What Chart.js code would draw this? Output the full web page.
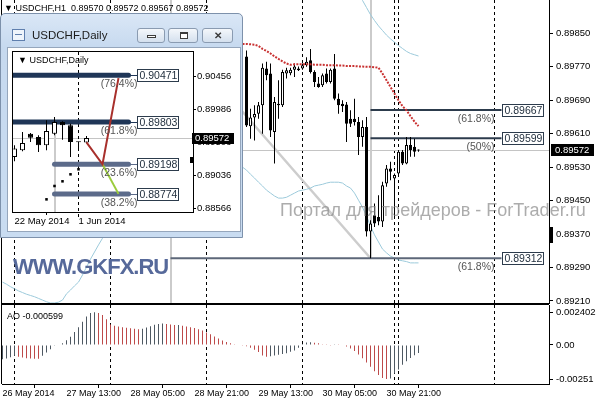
<!DOCTYPE html>
<html lang="ru">
<head>
<meta charset="utf-8">
<title>USDCHF,H1</title>
<script src="https://cdn.jsdelivr.net/npm/chart.js@4.4.1/dist/chart.umd.min.js"></script>
<style>
  html, body { margin: 0; padding: 0; background: #fff; }
  body { font-family: 'Liberation Sans', Arial, sans-serif; }
  #wrap { position: relative; width: 596px; height: 400px; overflow: hidden; background: #fff; }
  #wrap canvas { position: absolute; }
  .txt { position: absolute; white-space: pre; line-height: 1; color: #000; }
  #wm1 { left: 280px; top: 201px; font-size: 18px; color: rgba(140, 140, 140, 0.72); }
  #wm2 { left: 13px; top: 256px; font-size: 22px; font-weight: bold; letter-spacing: -1px; color: #56699a; }
  #win { position: absolute; left: 0; top: 13px; width: 243px; height: 225px; box-sizing: border-box;
         border: 1px solid #7d91ab; border-radius: 5px 5px 0 0;
         background: linear-gradient(#dae7f6, #c6d9ef 34px, #c9dcf1); }
  #client { position: absolute; left: 7px; top: 34px; width: 232px; height: 183px; background: #fff;
            box-shadow: 0 0 0 1px #95a6bc; }
  #winTitle { position: absolute; left: 31px; top: 16px; font-size: 11.5px; color: #1b1b1b; }
  #winIcon { position: absolute; left: 11px; top: 15px; width: 11px; height: 10px; border: 1px solid #5f7fae;
             background: #eef4fb; }
  #winIcon i { position: absolute; left: 2px; top: 4px; width: 7px; height: 1px; background: #5f7fae; }
  .btn { position: absolute; top: 14px; height: 15px; box-sizing: border-box; border: 1px solid #8a9bb1;
         border-radius: 3px; background: linear-gradient(#f4f7fb, #d4e0ee); }
  .btn span { position: absolute; box-sizing: border-box; background: #fff; border: 1px solid #3c3c3c; }
  .btn b { position: absolute; left: 0; right: 0; top: 0; text-align: center; font-size: 10px; line-height: 13px; color: #3a3a3a; }
</style>
</head>
<body>
<div id="wrap">
  <canvas id="mainChart" width="596" height="312" style="left:0;top:0"></canvas>
  <canvas id="aoChart" width="596" height="97" style="left:0;top:303px"></canvas>
  <div class="txt" id="hdr" style="left:4px;top:4px;font-size:9px"></div>
  <div class="txt" id="aoTitle" style="left:7px;top:312px;font-size:9px"></div>
  <div class="txt" id="wm1">Портал для трейдеров - ForTrader.ru</div>
  <div class="txt" id="wm2">WWW.GKFX.RU</div>
  <div id="win">
    <div id="winIcon"><i></i></div>
    <div class="txt" id="winTitle">USDCHF,Daily</div>
    <div class="btn" style="left:136px;width:28px"><span style="left:9px;top:6px;width:9px;height:3px"></span></div>
    <div class="btn" style="left:167px;width:30px"><span style="left:11px;top:3px;width:8px;height:7px;border-top-width:2px"></span></div>
    <div class="btn" style="left:201px;width:31px"><b>✕</b></div>
    <div id="client">
      <canvas id="dailyChart" width="232" height="183" style="left:0;top:0"></canvas>
      <div class="txt" id="dailyHdr" style="left:10px;top:8px;font-size:9px"></div>
    </div>
  </div>
</div>
<script>
// ---------- H1 data (hourly bars, index 0 = 26 May 21:00) ----------
const firstBar = 61; // bars before this are hidden behind the daily window
const h1Open = [0.89795, 0.89628, 0.89649, 0.89658, 0.89678, 0.89766, 0.89754, 0.89614, 0.89682, 0.89678,
                0.89754, 0.89755, 0.89763, 0.89762, 0.89766, 0.89774, 0.89786, 0.89758, 0.89730, 0.89726,
                0.89754, 0.89734, 0.89766, 0.89694, 0.89682, 0.89680, 0.89646, 0.89646, 0.89638, 0.89602,
                0.89626, 0.89376, 0.89415, 0.89411, 0.89400, 0.89491, 0.89527, 0.89503, 0.89515, 0.89567,
                0.89539, 0.89583, 0.89579, 0.89570];
const h1High = [0.89809, 0.89670, 0.89678, 0.89686, 0.89778, 0.89782, 0.89778, 0.89698, 0.89738, 0.89763,
                0.89768, 0.89768, 0.89778, 0.89771, 0.89778, 0.89793, 0.89813, 0.89762, 0.89746, 0.89754,
                0.89766, 0.89766, 0.89801, 0.89706, 0.89690, 0.89686, 0.89666, 0.89694, 0.89650, 0.89642,
                0.89650, 0.89403, 0.89443, 0.89463, 0.89495, 0.89535, 0.89543, 0.89515, 0.89571, 0.89571,
                0.89602, 0.89602, 0.89598, 0.89572];
const h1Low = [0.89626, 0.89598, 0.89594, 0.89646, 0.89610, 0.89738, 0.89602, 0.89539, 0.89646, 0.89674,
               0.89742, 0.89750, 0.89746, 0.89760, 0.89763, 0.89770, 0.89754, 0.89722, 0.89720, 0.89722,
               0.89730, 0.89730, 0.89690, 0.89658, 0.89662, 0.89590, 0.89626, 0.89630, 0.89559, 0.89579,
               0.89364, 0.89312, 0.89387, 0.89391, 0.89387, 0.89483, 0.89499, 0.89411, 0.89507, 0.89535,
               0.89537, 0.89555, 0.89555, 0.89567];
const h1Close = [0.89630, 0.89649, 0.89657, 0.89678, 0.89768, 0.89750, 0.89618, 0.89686, 0.89678, 0.89758,
                 0.89762, 0.89763, 0.89771, 0.89766, 0.89774, 0.89782, 0.89758, 0.89734, 0.89722, 0.89750,
                 0.89734, 0.89763, 0.89694, 0.89678, 0.89676, 0.89634, 0.89634, 0.89638, 0.89602, 0.89626,
                 0.89376, 0.89395, 0.89395, 0.89400, 0.89487, 0.89527, 0.89519, 0.89511, 0.89567, 0.89539,
                 0.89583, 0.89571, 0.89567, 0.89572];

// red dotted indicator line
const redLineFrom = 60;
const redLine = [0.89825, 0.89825, 0.89824, 0.89823, 0.89820, 0.89813, 0.89808, 0.89802, 0.89795, 0.89789,
                 0.89783, 0.89778, 0.89775, 0.89776, 0.89776, 0.89776, 0.89776, 0.89776, 0.89775, 0.89775,
                 0.89775, 0.89774, 0.89774, 0.89774, 0.89773, 0.89773, 0.89772, 0.89772, 0.89772, 0.89771,
                 0.89771, 0.89770, 0.89770, 0.89769, 0.89768, 0.89754, 0.89738, 0.89722, 0.89706, 0.89690,
                 0.89676, 0.89666, 0.89652, 0.89639, 0.89628];

// thin blue bands (visible parts only)
const lowerBandAFrom = 0;
const lowerBandA = [0.89255, 0.89250, 0.89244, 0.89239, 0.89234, 0.89230, 0.89226, 0.89223, 0.89220, 0.89216,
                    0.89212, 0.89208, 0.89205, 0.89205, 0.89207, 0.89212, 0.89227, 0.89236, 0.89246, 0.89255,
                    0.89272, 0.89291, 0.89310, 0.89327, 0.89344, 0.89360, 0.89375];
const lowerBandBFrom = 60;
const lowerBandB = [0.89530, 0.89523, 0.89513, 0.89504, 0.89494, 0.89485, 0.89475, 0.89468, 0.89461, 0.89456,
                    0.89456, 0.89458, 0.89463, 0.89468, 0.89473, 0.89475, 0.89477, 0.89480, 0.89485, 0.89487,
                    0.89489, 0.89492, 0.89494, 0.89494, 0.89494, 0.89492, 0.89485, 0.89480, 0.89468, 0.89451,
                    0.89434, 0.89413, 0.89389, 0.89368, 0.89351, 0.89334, 0.89325, 0.89317, 0.89313, 0.89308,
                    0.89306, 0.89304, 0.89301, 0.89301, 0.89301];
const upperBandFrom = 89;
const upperBand = [0.89950, 0.89929, 0.89912, 0.89895, 0.89881, 0.89868, 0.89857, 0.89846, 0.89837, 0.89829,
                   0.89821, 0.89814, 0.89807, 0.89802, 0.89799, 0.89796];

// Awesome Oscillator, bar 0..104
const aoValues = [-0.00105, -0.00100, -0.00090, -0.00080, -0.00086, -0.00092, -0.00097, -0.00100, -0.00101, -0.00102,
                  -0.00080, -0.00055, -0.00032, -0.00006, 0.00003, 0.00013, 0.00035, 0.00060, 0.00095, 0.00130,
                  0.00170, 0.00210, 0.00235, 0.002402, 0.00236, 0.00220, 0.00190, 0.00150, 0.00142, 0.00136,
                  0.00131, 0.00127, 0.00123, 0.00119, 0.00116, 0.00120, 0.00128, 0.00138, 0.00148, 0.00154,
                  0.00158, 0.00154, 0.00150, 0.00146, 0.00147, 0.00142, 0.00136, 0.00130, 0.00124, 0.00116,
                  0.00106, 0.00092, 0.00078, 0.00063, 0.00048, 0.00033, 0.00022, 0.00012, 0.00001, -0.00003,
                  -0.00005, -0.00010, -0.00020, -0.00035, -0.00052, -0.00078, -0.00086, -0.00083, -0.00077, -0.00072,
                  -0.00066, -0.00060, -0.00050, -0.00040, -0.00020, 0.00008, 0.00018, 0.00020, 0.00017, 0.00012,
                  0.00006, 0.00001, -0.00002, 0.00002, 0.00001, -0.00004, -0.00012, -0.00026, -0.00045, -0.00070,
                  -0.00098, -0.00128, -0.00160, -0.00193, -0.00220, -0.00242, -0.00251, -0.00246, -0.00210, -0.00180,
                  -0.00145, -0.00120, -0.00095, -0.00076, -0.000599];

// axes
const priceTicks = [0.89850, 0.89770, 0.89690, 0.89610, 0.89530, 0.89450, 0.89370, 0.89290, 0.89210];
const aoTickValues = [0.002402, 0, -0.00251];
const aoTickLabels = ['0.002402', '0.00', '-0.00251'];
const xTickBars = [0, 16, 32, 48, 64, 80, 96];
const xTickLabels = ['26 May 2014', '27 May 13:00', '28 May 05:00', '28 May 21:00', '29 May 13:00', '30 May 05:00', '30 May 21:00'];
const sepBars = [3, 27, 51, 75, 98, 99, 123];

// Fibonacci levels drawn on H1
const fibLevels = [0.89667, 0.89599, 0.89312];
const fibTexts = ['(61.8%)', '(50%)', '(61.8%)'];
const fibFrom = [92, 92, 42];
const fibTo = 124.75;
const trendBars = [42, 92];
const trendValues = [0.89860, 0.89312];
const anchorBars = [42, 92];
const anchorEnds = [null, 0.89312];
const axisMarkPrice = 0.89368;

// ---------- Daily window data (index 0 = 22 May 2014) ----------
const dailyOpen = [0.89302, 0.89397, 0.89636, 0.89588, 0.89469, 0.89636, 0.89802, 0.89755, 0.89516, 0.89510];
const dailyHigh = [0.89470, 0.89659, 0.89645, 0.89612, 0.89827, 0.89874, 0.89812, 0.89779, 0.89520, 0.89602];
const dailyLow = [0.89240, 0.89383, 0.89516, 0.89373, 0.89397, 0.89612, 0.89550, 0.89302, 0.89411, 0.89505];
const dailyClose = [0.89422, 0.89502, 0.89579, 0.89469, 0.89673, 0.89802, 0.89755, 0.89516, 0.89512, 0.89572];
const dailyPriceTicks = [0.90456, 0.89986, 0.89506, 0.89036, 0.88566];
const dailyTickBars = [0, 8];
const dailyTickLabels = ['22 May 2014', '1 Jun 2014'];
const dailySepBar = 8;
const sarBars = [4, 5, 6, 7, 8];
const sarValues = [0.88696, 0.88887, 0.88954, 0.89054, 0.89126];
const dFibLevels = [0.90471, 0.89803, 0.89198, 0.88774];
const dFibTexts = ['(76.4%)', '(61.8%)', '(23.6%)', '(38.2%)'];
const dFibFrom = [-1, -1, 5, 5];
const dFibTo = 14.25;
const dAnchorBar = 5;
const dAnchorTop = 0.89803;
const pathBars = [9, 11, 13];
const pathValues = [0.89512, 0.89198, 0.90430];
const altBars = [11, 13];
const altValues = [0.89198, 0.88774];
const dailyMarkPrice = 0.89254;

// ---------- helpers ----------
const FONT = "'Liberation Sans', Arial, sans-serif";
Chart.defaults.font.family = FONT;
Chart.defaults.color = '#000';

const seq = (from, arr) => arr.map((v, k) => ({ x: from + k, y: v }));
const pairs = (xs, ys) => xs.map((v, k) => ({ x: v, y: ys[k] }));
const lastIdx = h1Close.length - 1;
const bidPrice = h1Close[lastIdx];

function vline(ctx, x, y1, y2) { ctx.beginPath(); ctx.moveTo(x, y1); ctx.lineTo(x, y2); ctx.stroke(); }
function hline(ctx, x1, x2, y) { ctx.beginPath(); ctx.moveTo(x1, y); ctx.lineTo(x2, y); ctx.stroke(); }

function rightAxis(min, max, values, fmt, width, tickLen, pad, size) {
  return {
    position: 'right', min, max,
    afterFit(s) { s.width = width; s.paddingTop = 0; s.paddingBottom = 0; },
    afterBuildTicks(s) { s.ticks = values.map(v => ({ value: v })); },
    grid: { drawOnChartArea: false, color: '#000', tickLength: tickLen },
    border: { display: true, color: '#000' },
    ticks: { color: '#000', padding: pad, autoSkip: false, font: { size }, callback: fmt }
  };
}

function bottomAxis(min, max, bars, labels, height, tickLen, pad, size) {
  return {
    type: 'linear', position: 'bottom', min, max, offset: false,
    afterFit(s) { s.height = height; s.paddingLeft = 0; s.paddingRight = 0; },
    afterBuildTicks(s) { s.ticks = bars.map(v => ({ value: v })); },
    grid: { drawOnChartArea: false, color: '#000', tickLength: tickLen },
    border: { display: true, color: '#000' },
    ticks: { color: '#000', padding: pad, autoSkip: false, maxRotation: 0, minRotation: 0, align: 'start',
             font: { size }, callback: v => labels[bars.indexOf(v)] }
  };
}

const baseOptions = {
  responsive: false, animation: false, devicePixelRatio: 1, events: [],
  plugins: { legend: { display: false }, tooltip: { enabled: false } }
};

function candleSets(open, high, low, close, from, bodyW, order) {
  return [
    { data: open.map((o, k) => ({ x: from + k, y: [o, close[k]] })),
      backgroundColor: open.map((o, k) => close[k] >= o ? '#ffffff' : '#000000'),
      borderColor: '#000', borderWidth: 1, borderSkipped: false, barThickness: bodyW,
      minBarLength: 1, grouped: false, inflateAmount: 0, order },
    { data: low.map((l, k) => ({ x: from + k, y: [l, high[k]] })),
      backgroundColor: '#000', barThickness: 1, grouped: false, inflateAmount: 0, order: order + 1 }
  ];
}

const separators = {
  id: 'separators',
  beforeDatasetsDraw(chart) {
    const { ctx, chartArea: a, scales: { x } } = chart;
    ctx.save();
    ctx.strokeStyle = '#000'; ctx.lineWidth = 1; ctx.setLineDash([3, 3]);
    sepBars.forEach(b => vline(ctx, Math.floor(x.getPixelForValue(b)) + 0.5, a.top, a.bottom));
    ctx.restore();
  }
};

// ---------- main H1 chart ----------
const X_MIN = -0.125, X_MAX = 136.625;
const fibColors = ['#2c3b4c', '#2c3b4c', '#5d6779'];

const mainDecor = {
  id: 'mainDecor',
  beforeDatasetsDraw(chart) {
    const { ctx, chartArea: a, scales: { x, y } } = chart;
    ctx.save();
    ctx.strokeStyle = '#c4c4c4'; ctx.lineWidth = 1;
    hline(ctx, a.left, a.right, Math.round(y.getPixelForValue(bidPrice)) + 0.5);
    ctx.strokeStyle = '#cbcbcb'; ctx.lineWidth = 2;
    anchorBars.forEach((b, k) => {
      const px = Math.round(x.getPixelForValue(b));
      const end = anchorEnds[k] === null ? a.bottom : y.getPixelForValue(anchorEnds[k]);
      vline(ctx, px, a.top, end);
    });
    ctx.restore();
  },
  afterDraw(chart) {
    const { ctx, chartArea: a, scales: { x, y } } = chart;
    ctx.save();
    ctx.strokeStyle = '#000'; ctx.lineWidth = 1;
    vline(ctx, a.left - 0.5, a.top, a.bottom + 1);
    hline(ctx, a.left - 1, a.right, a.bottom + 0.5);

    ctx.font = `10.5px ${FONT}`; ctx.textBaseline = 'middle';
    fibLevels.forEach((lv, n) => {
      const py = Math.round(y.getPixelForValue(lv));
      const bx = Math.round(x.getPixelForValue(fibTo)) + 0.5;
      ctx.fillStyle = '#fff'; ctx.fillRect(bx, py - 5.5, 41, 12);
      ctx.strokeStyle = '#2c3b4c'; ctx.strokeRect(bx, py - 5.5, 41, 12);
      ctx.fillStyle = '#1d2b3a'; ctx.textAlign = 'left';
      ctx.fillText(lv.toFixed(5), bx + 2, py + 1);
      ctx.fillStyle = '#555'; ctx.textAlign = 'right';
      ctx.fillText(fibTexts[n], bx - 8, py + 9);
    });

    const by = Math.round(y.getPixelForValue(bidPrice));
    ctx.fillStyle = '#000'; ctx.fillRect(a.right + 2, by - 6, 43, 12);
    ctx.fillStyle = '#fff'; ctx.font = `9.5px ${FONT}`; ctx.textAlign = 'left';
    ctx.fillText(bidPrice.toFixed(5), a.right + 6, by + 0.5);

    ctx.fillStyle = '#000';
    ctx.fillRect(a.right + 1, Math.round(y.getPixelForValue(axisMarkPrice)) - 8, 3, 16);
    ctx.restore();
  }
};

new Chart(document.getElementById('mainChart'), {
  type: 'bar',
  data: {
    datasets: [
      { type: 'line', data: seq(redLineFrom, redLine), borderColor: '#c93232', borderWidth: 2,
        borderDash: [2, 1.3], pointRadius: 0, order: 1 },
      ...candleSets(h1Open, h1High, h1Low, h1Close, firstBar, 3, 2),
      ...fibLevels.map((lv, n) => ({ type: 'line', data: [{ x: fibFrom[n], y: lv }, { x: fibTo, y: lv }],
        borderColor: fibColors[n], borderWidth: 2, pointRadius: 0, order: 5 })),
      { type: 'line', data: seq(lowerBandAFrom, lowerBandA), borderColor: '#9ccadb', borderWidth: 1, pointRadius: 0, order: 6 },
      { type: 'line', data: seq(lowerBandBFrom, lowerBandB), borderColor: '#9ccadb', borderWidth: 1, pointRadius: 0, order: 6 },
      { type: 'line', data: seq(upperBandFrom, upperBand), borderColor: '#9ccadb', borderWidth: 1, pointRadius: 0, order: 6 },
      { type: 'line', data: pairs(trendBars, trendValues), borderColor: '#cdcdcd', borderWidth: 2.5, pointRadius: 0, order: 8 }
    ]
  },
  options: {
    ...baseOptions,
    layout: { padding: { left: 2, top: 0, right: 0, bottom: 9 } },
    scales: {
      x: { type: 'linear', min: X_MIN, max: X_MAX, offset: false, display: false },
      y: rightAxis(0.89205, 0.89930, priceTicks, v => v.toFixed(5), 47, 4, 3, 9.5)
    }
  },
  plugins: [separators, mainDecor]
});

// ---------- AO sub-window ----------
const aoColors = aoValues.map((v, k) => (k === 0 || v > aoValues[k - 1]) ? '#4e5862' : '#bd4a4a');
const aoDecor = {
  id: 'aoDecor',
  afterDraw(chart) {
    const { ctx, chartArea: a } = chart;
    ctx.save();
    ctx.strokeStyle = '#000'; ctx.lineWidth = 1;
    vline(ctx, a.left - 0.5, a.top - 1, a.bottom);
    hline(ctx, a.left - 1, a.right, a.top - 0.5);
    ctx.restore();
  }
};

new Chart(document.getElementById('aoChart'), {
  type: 'bar',
  data: { datasets: [{ data: seq(0, aoValues), backgroundColor: aoColors, barThickness: 1, grouped: false, inflateAmount: 0 }] },
  options: {
    ...baseOptions,
    layout: { padding: { left: 2, top: 2, right: 0, bottom: 0 } },
    scales: {
      x: bottomAxis(X_MIN, X_MAX, xTickBars, xTickLabels, 16, 4, 0, 9),
      y: rightAxis(-0.00287, 0.00294, aoTickValues, v => aoTickLabels[aoTickValues.indexOf(v)], 47, 4, 3, 9.5)
    }
  },
  plugins: [separators, aoDecor]
});

// ---------- daily window ----------
const dFibColors = ['#1f3657', '#1f3657', '#5c6b8a', '#5c6b8a'];
const dailyDecor = {
  id: 'dailyDecor',
  beforeDatasetsDraw(chart) {
    const { ctx, chartArea: a, scales: { x, y } } = chart;
    ctx.save();
    ctx.strokeStyle = '#c4c4c4'; ctx.lineWidth = 1;
    hline(ctx, a.left, a.right, Math.round(y.getPixelForValue(dailyClose[dailyClose.length - 1])) + 0.5);
    ctx.strokeStyle = '#cbcbcb'; ctx.lineWidth = 2;
    vline(ctx, Math.round(x.getPixelForValue(dAnchorBar)), y.getPixelForValue(dAnchorTop), a.bottom);
    ctx.strokeStyle = '#000'; ctx.lineWidth = 1; ctx.setLineDash([3, 3]);
    vline(ctx, Math.floor(x.getPixelForValue(dailySepBar)) + 0.5, a.top, a.bottom + 5);
    ctx.restore();
  },
  afterDraw(chart) {
    const { ctx, chartArea: a, scales: { x, y } } = chart;
    ctx.save();
    ctx.strokeStyle = '#000'; ctx.lineWidth = 1;
    ctx.strokeRect(a.left - 0.5, a.top - 0.5, a.right - a.left + 1, a.bottom - a.top + 1);

    ctx.font = `10.5px ${FONT}`; ctx.textBaseline = 'middle';
    dFibLevels.forEach((lv, n) => {
      const py = Math.round(y.getPixelForValue(lv));
      const ex = x.getPixelForValue(dFibTo);
      const bx = Math.round(ex) + 8.5;
      ctx.strokeStyle = dFibColors[n]; ctx.lineWidth = 1;
      hline(ctx, ex, bx, py + 0.5);
      ctx.fillStyle = '#fff'; ctx.fillRect(bx, py - 5.5, 41, 12);
      ctx.strokeStyle = '#2c3b4c'; ctx.strokeRect(bx, py - 5.5, 41, 12);
      ctx.fillStyle = '#1d2b3a'; ctx.textAlign = 'left';
      ctx.fillText(lv.toFixed(5), bx + 2, py + 1);
      ctx.fillStyle = '#555'; ctx.textAlign = 'right';
      ctx.fillText(dFibTexts[n], bx, py + 9);
    });

    const last = dailyClose[dailyClose.length - 1];
    const by = Math.round(y.getPixelForValue(last));
    ctx.fillStyle = '#000'; ctx.fillRect(a.right - 1, by - 5, 42, 11);
    ctx.fillStyle = '#fff'; ctx.font = `9.5px ${FONT}`; ctx.textAlign = 'left';
    ctx.fillText(last.toFixed(5), a.right + 2, by + 0.5);
    ctx.fillStyle = '#000';
    ctx.fillRect(a.right - 3, Math.round(y.getPixelForValue(dailyMarkPrice)) - 3, 3, 6);
    ctx.restore();
  }
};

new Chart(document.getElementById('dailyChart'), {
  type: 'bar',
  data: {
    datasets: [
      { type: 'line', data: pairs(pathBars, pathValues), borderColor: '#a8302c', borderWidth: 2, pointRadius: 0, order: 0 },
      { type: 'line', data: pairs(altBars, altValues), borderColor: '#9bcc3c', borderWidth: 2, pointRadius: 0, order: 0 },
      ...candleSets(dailyOpen, dailyHigh, dailyLow, dailyClose, 0, 5, 2),
      { type: 'line', data: pairs(sarBars, sarValues), showLine: false, pointStyle: 'rect', pointRadius: 1.8,
        pointBackgroundColor: '#000', pointBorderWidth: 0, order: 4 },
      ...dFibLevels.map((lv, n) => ({ type: 'line', data: [{ x: dFibFrom[n], y: lv }, { x: dFibTo, y: lv }],
        borderColor: dFibColors[n], borderWidth: 5, borderCapStyle: 'round', pointRadius: 0, order: 5 }))
    ]
  },
  options: {
    ...baseOptions,
    layout: { padding: { left: 5, top: 4, right: 0, bottom: 0 } },
    scales: {
      x: bottomAxis(-0.1875, 22.3125, dailyTickBars, dailyTickLabels, 19, 3, 1, 9.5),
      y: rightAxis(0.88515, 0.90804, dailyPriceTicks, v => v.toFixed(5), 47, 3, 1, 9.5)
    }
  },
  plugins: [dailyDecor]
});

// ---------- header texts ----------
const f5 = v => v.toFixed(5);
document.getElementById('hdr').textContent =
  `▼ USDCHF,H1  ${f5(h1Open[lastIdx])} ${f5(h1High[lastIdx])} ${f5(h1Low[lastIdx])} ${f5(h1Close[lastIdx])}`;
document.getElementById('aoTitle').textContent = `AO ${aoValues[aoValues.length - 1].toFixed(6)}`;
document.getElementById('dailyHdr').textContent = '▼ USDCHF,Daily';
</script>
</body>
</html>
